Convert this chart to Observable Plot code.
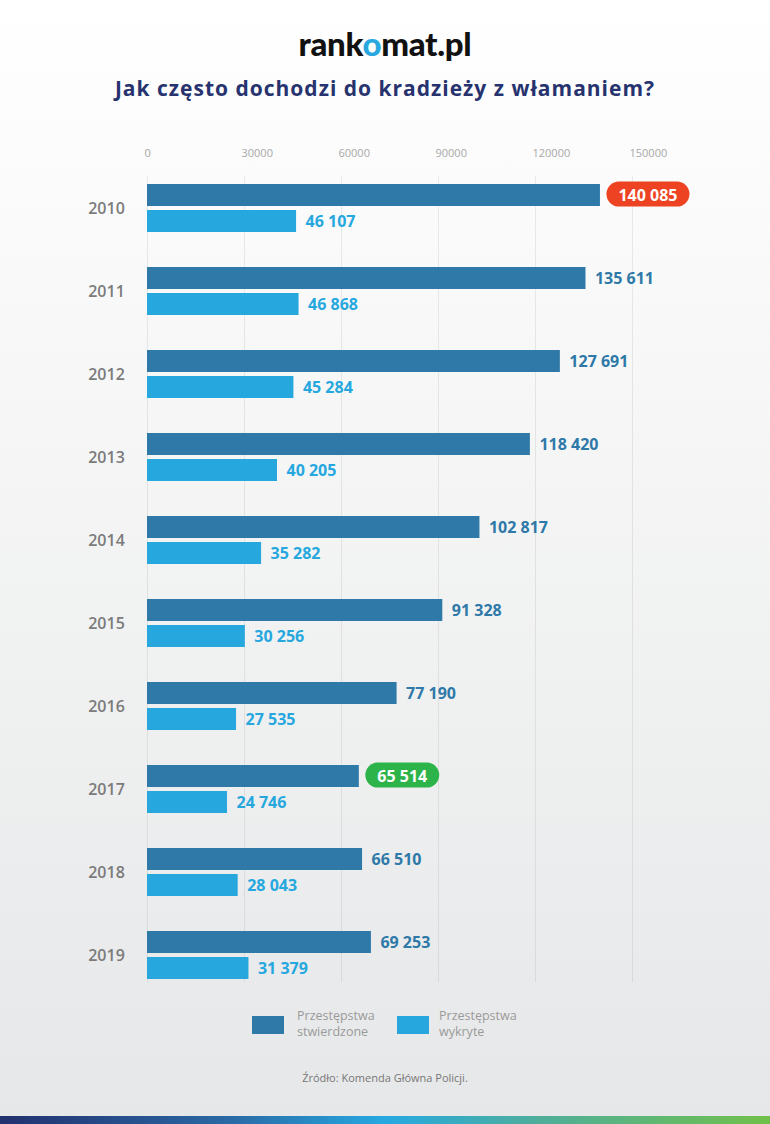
<!DOCTYPE html>
<html><head><meta charset="utf-8">
<script src="https://cdn.jsdelivr.net/npm/d3@7"></script>
<script src="https://cdn.jsdelivr.net/npm/@observablehq/plot@0.6"></script>
<style>
body{margin:0;}
#page{position:relative;width:770px;height:1124px;background:linear-gradient(#ffffff,#e6e7e8);overflow:hidden;font-family:"Open Sans",sans-serif;}
#logo{position:absolute;top:22px;left:0;width:770px;text-align:center;font-family:Lato,sans-serif;font-weight:900;font-size:33px;color:#111;letter-spacing:-0.3px;line-height:42px;}
#logo span{color:#29a8e0;}
#title{position:absolute;top:74px;left:0;width:770px;text-align:center;font-weight:700;font-size:21px;letter-spacing:1px;color:#27336e;line-height:28px;}
#chart{position:absolute;top:130px;left:0;}
.leg{position:absolute;font-size:12.5px;line-height:16px;color:#9a9a9a;white-space:nowrap;}
.sw{position:absolute;width:32px;height:18px;}
#src{position:absolute;top:1070px;left:0;width:770px;text-align:center;font-size:11px;color:#777;}
#bottom{position:absolute;left:0;top:1116px;width:770px;height:8px;background:linear-gradient(90deg,#22306e,#2a6aa5 30%,#27a9e1 50%,#4fae9a 70%,#71c04a);}
</style></head>
<body>
<div id="page">
  <div id="logo">rank<span>o</span>mat.pl</div>
  <div id="title">Jak często dochodzi do kradzieży z włamaniem?</div>
  <div id="chart"></div>
  <div class="sw" style="left:252px;top:1016px;background:#2e79a8"></div>
  <div class="leg" style="left:297px;top:1008px;">Przestępstwa</div>
  <div class="leg" style="left:297px;top:1024px;">stwierdzone</div>
  <div class="sw" style="left:397px;top:1016px;background:#26a8df"></div>
  <div class="leg" style="left:439px;top:1008px;">Przestępstwa</div>
  <div class="leg" style="left:439px;top:1024px;">wykryte</div>
  <div id="src">Źródło: Komenda Główna Policji.</div>
  <div id="bottom"></div>
</div>
<script>
const years = ["2010","2011","2012","2013","2014","2015","2016","2017","2018","2019"];
const stwierdzone = [140085,135611,127691,118420,102817,91328,77190,65514,66510,69253];
const wykryte = [46107,46868,45284,40205,35282,30256,27535,24746,28043,31379];
const xTicks = [0,30000,60000,90000,120000,150000];

const rows = years.map((y,i)=>({year:y, stw:stwierdzone[i], wyk:wykryte[i]}));
const fmt = v => String(v).replace(/\B(?=(\d{3})+(?!\d))/g, " ");
const maxV = d3.max(stwierdzone), minV = d3.min(stwierdzone);
const isHi = d => d.stw === maxV || d.stw === minV;

const DARK = "#2e79a8", LIGHT = "#26a8df";
const chart = Plot.plot({
  width: 770, height: 870,
  marginLeft: 147, marginRight: 138, marginTop: 46, marginBottom: 18,
  style: {background: "transparent", fontFamily: "'Open Sans', sans-serif", overflow: "visible"},
  x: {domain: [0,150000]},
  y: {domain: years, paddingInner: 0.424, paddingOuter: 0.05, align: 0.7},
  marks: [
    Plot.ruleX(xTicks, {stroke: "#000", strokeOpacity: 0.07}),
    Plot.axisX(xTicks, {anchor: "top", tickSize: 0, tickPadding: 20, textAnchor: "start", dx: -3, color: "#a8a8a8", fontSize: 11, tickFormat: d => String(d), label: null}),
    Plot.axisY({tickSize: 0, tickPadding: 41, textAnchor: "middle", color: "#7b7b7b", fontSize: 16, fontWeight: 600, label: null}),
    Plot.barX(rows, {x: "stw", y: "year", insetBottom: 26, fill: DARK}),
    Plot.barX(rows, {x: "wyk", y: "year", insetTop: 26, fill: LIGHT}),
    Plot.text(rows, {filter: d => !isHi(d), x: "stw", y: "year", text: d => fmt(d.stw), dy: -13, dx: 9, textAnchor: "start", fill: DARK, fontSize: 16, fontWeight: 700}),
    Plot.text(rows, {filter: isHi, x: "stw", y: "year", text: d => fmt(d.stw), dy: -13, dx: 18, textAnchor: "start", fill: "#fff", fontSize: 16, fontWeight: 700}),
    Plot.text(rows, {x: "wyk", y: "year", text: d => fmt(d.wyk), dy: 13, dx: 9, textAnchor: "start", fill: LIGHT, fontSize: 16, fontWeight: 700})
  ]
});
document.getElementById("chart").appendChild(chart);

// rounded "pill" backgrounds for the extreme values
const NS = "http://www.w3.org/2000/svg";
chart.querySelectorAll("text").forEach(t => {
  const s = t.textContent;
  let col = null;
  if (s === fmt(maxV) && t.getAttribute("fill") !== DARK) col = "#ee4322";
  if (s === fmt(minV) && t.getAttribute("fill") !== DARK) col = "#2cb34a";
  if (!col) return;
  const bb = t.getBBox();
  const r = document.createElementNS(NS, "rect");
  const cy = bb.y + bb.height / 2 - 0.5;
  r.setAttribute("x", bb.x - 12);
  r.setAttribute("y", cy - 12.5);
  r.setAttribute("width", bb.width + 24);
  r.setAttribute("height", 25);
  r.setAttribute("rx", 12.5);
  r.setAttribute("fill", col);
  if (t.getAttribute("transform")) r.setAttribute("transform", t.getAttribute("transform"));
  t.parentNode.insertBefore(r, t);
});
</script>
</body></html>
